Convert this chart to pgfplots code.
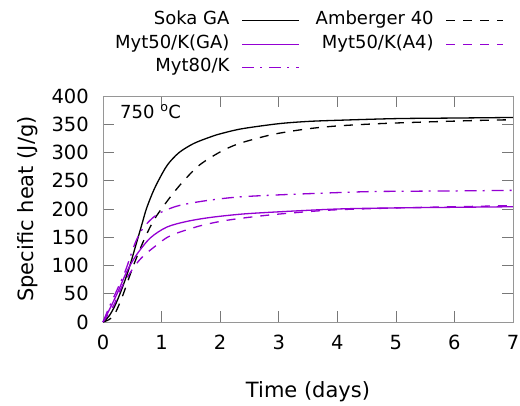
\documentclass[border=0pt]{standalone}
\usepackage{fontspec}
\setmainfont{DejaVu Sans}
\usepackage{pgfplots}
\pgfplotsset{compat=1.18}
\definecolor{DV}{RGB}{148,0,211}
\definecolor{AX}{RGB}{150,150,150}

\begin{document}
\begin{tikzpicture}
\begin{axis}[
  scale only axis, width=410pt, height=226pt,
  xmin=0, xmax=7, ymin=0, ymax=400,
  xtick={0,1,...,7}, ytick={0,50,...,400},
  axis line style={AX, line width=0.8pt},
  tick style={AX!80!black, line width=0.6pt},
  tick align=inside, major tick length=11pt,
  /pgf/number format/assume math mode=true,
  ticklabel style={font=\fontsize{19.5}{22}\selectfont, inner sep=0pt},
  xticklabel style={yshift=-13pt},
  yticklabel style={xshift=-14pt},
  every axis x label/.style={at={(axis description cs:0.5,0)}, anchor=base, yshift=-75pt,
    font=\fontsize{21}{24}\selectfont},
  every axis y label/.style={at={(axis description cs:0,0.5)}, rotate=90, anchor=base, yshift=69pt,
    font=\fontsize{21}{24}\selectfont},
  xlabel={Time (days)},
  ylabel={Specific heat (J/g)},
  legend columns=2,
  legend plot pos=right,
  legend cell align=right,
  legend image code/.code={\draw[line width=1.3pt, #1] (0pt,0pt) -- (57pt,0pt);},
  legend style={draw=none, fill=none, inner sep=0pt, outer sep=0pt,
    at={(axis description cs:0.978,1.3695)}, anchor=north east,
    font=\fontsize{18}{21}\selectfont,
    nodes={inner sep=0pt, text height=12.5pt, text depth=4pt},
    row sep=7pt,
    /tikz/every odd column/.append style={column sep=12pt},
    /tikz/every even column/.append style={column sep=16pt}},
  every axis plot/.append style={line width=1.3pt, smooth},
  clip=false,
]
% Soka GA
\addplot[black] coordinates {(0,0)(0.1,10)(0.2,28)(0.29,50)(0.38,75)(0.46,100)(0.53,125)(0.6,150)(0.67,175)(0.74,200)(0.84,227)(0.94,249)(1.1,278)(1.3,300)(1.55,316)(1.82,327)(2.0,333)(2.37,342)(3,351)(3.5,355)(4,357)(5,360)(6,361)(7,362)};
\addlegendentry{Soka GA}
% Amberger 40
\addplot[black, dash pattern=on 9pt off 8pt] coordinates {(0,0)(0.1,4)(0.2,14)(0.33,45)(0.45,80)(0.55,108)(0.72,150)(0.89,184)(1.14,220)(1.37,249)(1.65,278)(2.0,301)(2.3,315)(2.7,327)(3.0,334)(3.5,342)(4.0,347)(4.7,351)(5.5,354)(6.5,357)(7,358)};
\addlegendentry{Amberger 40}
% Myt50/K(GA)
\addplot[DV] coordinates {(0,0)(0.1,20)(0.24,50)(0.41,90)(0.58,120)(0.81,149)(1.09,168)(1.43,178)(1.83,185)(2.37,191)(3,195)(4,200)(5,202)(6,203)(7,204)};
\addlegendentry{Myt50/K(GA)}
% Myt50/K(A4)
\addplot[DV, dash pattern=on 9pt off 8pt] coordinates {(0,0)(0.1,15)(0.2,33)(0.32,62)(0.52,96)(0.69,117)(0.94,138)(1.1,150)(1.28,158)(1.65,170)(2.0,178)(2.39,184)(3,191)(3.87,198)(4.7,201)(5.5,203)(6.5,205)(7,206)};
\addlegendentry{Myt50/K(A4)}
% Myt80/K
\addplot[DV, dash pattern=on 12pt off 6pt on 2pt off 7pt] coordinates {(0,0)(0.1,25)(0.21,50)(0.38,90)(0.55,140)(0.69,167)(0.92,190)(1.26,205)(1.71,214)(2.28,221)(3,225)(4,229)(4.67,231)(6,232)(7,233)};
\addlegendentry{Myt80/K}
\node[font=\fontsize{18}{21}\selectfont, anchor=base west, inner sep=0pt] at (axis cs:0.29,361) {750 \textsuperscript{o}C};
\coordinate (o) at (rel axis cs:0,0);
\end{axis}
\pgfresetboundingbox
\path ([shift={(-103pt,-83pt)}]o) rectangle ++(520pt,405pt);
\end{tikzpicture}
\end{document}
